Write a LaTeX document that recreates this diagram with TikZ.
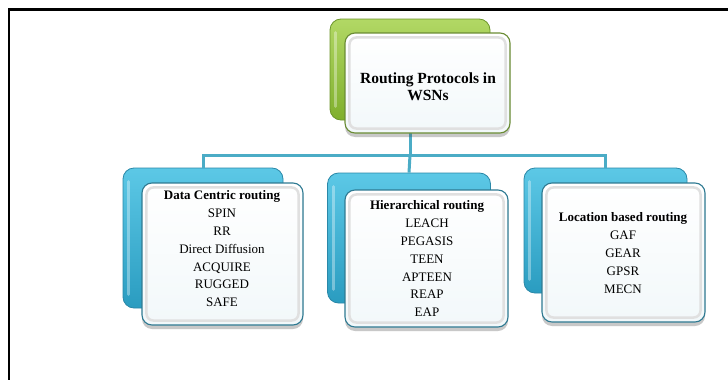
\documentclass[tikz,border=0pt]{standalone}
\usepackage{fontspec}
\setmainfont{Liberation Serif}
\usetikzlibrary{shadows}
\definecolor{conn}{HTML}{4BACC6}
\definecolor{bluetop}{HTML}{5CC8E6}
\definecolor{bluebot}{HTML}{2A9CC0}
\definecolor{blueedge}{HTML}{2A88A8}
\definecolor{greentop}{HTML}{B2D865}
\definecolor{greenbot}{HTML}{7FAF2C}
\definecolor{greenedge}{HTML}{6C962A}
\definecolor{frontfill}{HTML}{F2F8FA}
\definecolor{frontedge}{HTML}{2F7A92}
\definecolor{frontgedge}{HTML}{6A8C34}
\begin{document}
\begin{tikzpicture}[x=1pt,y=-1pt,
  backbox/.style={rectangle, rounded corners=11pt, inner sep=0pt, line width=0.8pt},
  backblue/.style={backbox, draw=blueedge, top color=bluetop, bottom color=bluebot},
  backgreen/.style={backbox, draw=greenedge, top color=greentop, bottom color=greenbot},
  frontbox/.style={rectangle, rounded corners=10pt, inner sep=0pt, line width=1.1pt,
    top color=white, bottom color=frontfill,
    drop shadow={shadow xshift=0pt, shadow yshift=-4pt, opacity=0.3, fill=black!70}},
  bevel/.style={draw=black!12, line width=2.5pt, rounded corners=7pt},
  shine/.style={draw=white, opacity=0.35, line width=3pt, line cap=round},
  connector/.style={draw=conn, line width=3pt},
  txt/.style={anchor=north, inner sep=0pt, align=center, font=\fontsize{13}{17.8}\selectfont},
  ttl/.style={anchor=north, inner sep=0pt, align=center, font=\fontsize{15.5}{17}\selectfont\bfseries}
]
\useasboundingbox (0,0) rectangle (728,380);
\fill[white] (0,0) rectangle (728,380);
\draw[line width=2.3pt] (9,380) -- (9,9.5) -- (728,9.5);

% back boxes
\node[backgreen, minimum width=160pt, minimum height=101pt] (gback) at (410,69.5) {};
\node[backblue, minimum width=160pt, minimum height=140pt] (b1) at (203,238) {};
\node[backblue, minimum width=163pt, minimum height=130pt] (b2) at (409,238) {};
\node[backblue, minimum width=163pt, minimum height=125pt] (b3) at (605.5,230.5) {};

% connectors
\coordinate (bus) at (410,155);
\draw[connector] (gback.south) -- (bus);
\draw[connector] (b1.north) |- (bus);
\draw[connector] (b3.north) |- (bus);
\draw[connector] (b2.north) -- (bus);

% shine on back boxes
\foreach \b in {b1,b2,b3,gback}{
  \draw[shine] ([shift={(6,14)}]\b.north west) -- ([shift={(6,-14)}]\b.south west);
}

% front boxes
\node[frontbox, draw=frontgedge, minimum width=165pt, minimum height=100pt] (ft) at (427.5,83) {};
\node[frontbox, draw=frontedge, minimum width=161pt, minimum height=142pt] (f1) at (222.5,254) {};
\node[frontbox, draw=frontedge, minimum width=163pt, minimum height=137pt] (f2) at (426.5,258.5) {};
\node[frontbox, draw=frontedge, minimum width=163pt, minimum height=139pt] (f3) at (623.5,252.5) {};
\foreach \f in {ft,f1,f2,f3}{
  \draw[bevel] ([shift={(5,5)}]\f.north west) rectangle ([shift={(-5,-5)}]\f.south east);
}

% texts
\node[ttl] (tt) at (428,72.5) {Routing Protocols in\\WSNs};
\node[txt] (t1) at (222,190.7) {\textbf{Data Centric routing}\\SPIN\\RR\\Direct Diffusion\\ACQUIRE\\RUGGED\\SAFE};
\node[txt] (t2) at (427,200.7) {\textbf{Hierarchical routing}\\LEACH\\PEGASIS\\TEEN\\APTEEN\\REAP\\EAP};
\node[txt] (t3) at (623,212.7) {\textbf{Location based routing}\\GAF\\GEAR\\GPSR\\MECN};
\end{tikzpicture}
\end{document}
